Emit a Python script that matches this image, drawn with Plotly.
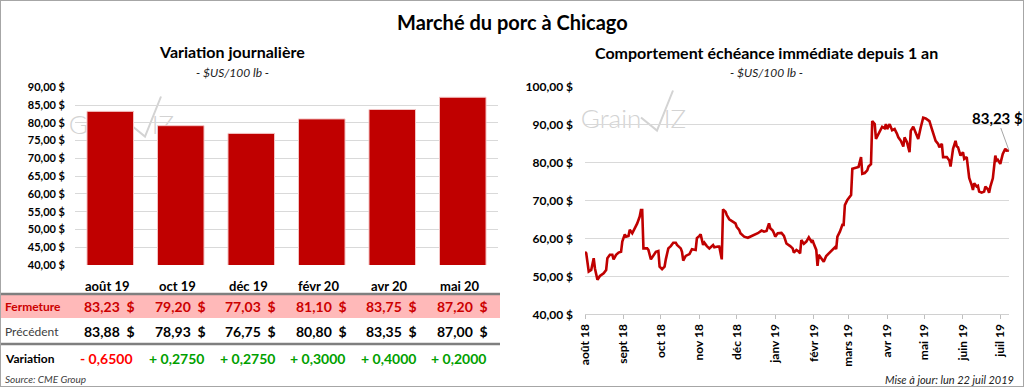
import plotly.graph_objects as go

# ---------------- data ----------------
contracts = ["août 19", "oct 19", "déc 19", "févr 20", "avr 20", "mai 20"]
fermeture = [83.23, 79.20, 77.03, 81.10, 83.75, 87.20]
precedent = [83.88, 78.93, 76.75, 80.80, 83.35, 87.00]
variation = [-0.6500, 0.2750, 0.2750, 0.3000, 0.4000, 0.2000]

dates = [
    "2018-08-01", "2018-08-02", "2018-08-04", "2018-08-06", "2018-08-08", "2018-08-09", "2018-08-11",
    "2018-08-13", "2018-08-16", "2018-08-18", "2018-08-19", "2018-08-21", "2018-08-23", "2018-08-24",
    "2018-08-26", "2018-08-28", "2018-08-30", "2018-08-31",
    "2018-09-02", "2018-09-03", "2018-09-05", "2018-09-06", "2018-09-08", "2018-09-10", "2018-09-12",
    "2018-09-14", "2018-09-15", "2018-09-16", "2018-09-17", "2018-09-20", "2018-09-21", "2018-09-23",
    "2018-09-25", "2018-09-27", "2018-09-29", "2018-09-30",
    "2018-10-02", "2018-10-04", "2018-10-05", "2018-10-07", "2018-10-09", "2018-10-11", "2018-10-13",
    "2018-10-14", "2018-10-17", "2018-10-18", "2018-10-19", "2018-10-21", "2018-10-24", "2018-10-26",
    "2018-10-29", "2018-10-30",
    "2018-11-01", "2018-11-02", "2018-11-04", "2018-11-05", "2018-11-07", "2018-11-09", "2018-11-12",
    "2018-11-13", "2018-11-16", "2018-11-17", "2018-11-19", "2018-11-20", "2018-11-22", "2018-11-23",
    "2018-11-25", "2018-11-28", "2018-11-30",
    "2018-12-01", "2018-12-03", "2018-12-04", "2018-12-07", "2018-12-10", "2018-12-12", "2018-12-15",
    "2018-12-18", "2018-12-21", "2018-12-23", "2018-12-25", "2018-12-26", "2018-12-27", "2018-12-28",
    "2018-12-30", "2018-12-31",
    "2019-01-01", "2019-01-03", "2019-01-06", "2019-01-08", "2019-01-10", "2019-01-13", "2019-01-15",
    "2019-01-16", "2019-01-18", "2019-01-20", "2019-01-21", "2019-01-22", "2019-01-24", "2019-01-26",
    "2019-01-28", "2019-01-30", "2019-01-31",
    "2019-02-01", "2019-02-03", "2019-02-04", "2019-02-05", "2019-02-07", "2019-02-09", "2019-02-11",
    "2019-02-13", "2019-02-16", "2019-02-18", "2019-02-19", "2019-02-20", "2019-02-22", "2019-02-24",
    "2019-02-25", "2019-02-26", "2019-02-28",
    "2019-03-02", "2019-03-03", "2019-03-04", "2019-03-07", "2019-03-09", "2019-03-11", "2019-03-12",
    "2019-03-14", "2019-03-16", "2019-03-17", "2019-03-19", "2019-03-20", "2019-03-22", "2019-03-23",
    "2019-03-26", "2019-03-28", "2019-03-30", "2019-03-31",
    "2019-04-01", "2019-04-03", "2019-04-05", "2019-04-07", "2019-04-09", "2019-04-10", "2019-04-12",
    "2019-04-14", "2019-04-15", "2019-04-17", "2019-04-19", "2019-04-20", "2019-04-22", "2019-04-24",
    "2019-04-26", "2019-04-28", "2019-04-30",
    "2019-05-02", "2019-05-05", "2019-05-07", "2019-05-09", "2019-05-10", "2019-05-12", "2019-05-13",
    "2019-05-15", "2019-05-16", "2019-05-19", "2019-05-21", "2019-05-22", "2019-05-24", "2019-05-26",
    "2019-05-27", "2019-05-28", "2019-05-30",
    "2019-06-01", "2019-06-02", "2019-06-04", "2019-06-05", "2019-06-06", "2019-06-08", "2019-06-09",
    "2019-06-10", "2019-06-12", "2019-06-13", "2019-06-14", "2019-06-16", "2019-06-18", "2019-06-19",
    "2019-06-21", "2019-06-22", "2019-06-23", "2019-06-25", "2019-06-26", "2019-06-27", "2019-06-28",
    "2019-06-29",
    "2019-07-01", "2019-07-03", "2019-07-05", "2019-07-06", "2019-07-08",
]
prices = [
    56.5, 56.1, 51.3, 51.7, 54.8, 52.1, 49.1,
    50.1, 50.8, 51.7, 54.8, 55.7, 55.7, 54.5,
    55.7, 56.3, 56.5, 59.2,
    61.1, 60.5, 60.7, 62.3, 61.4, 62.7, 64.0,
    65.8, 67.5, 67.5, 57.4, 57.4, 57.0, 54.5,
    55.4, 56.5, 56.7, 52.6,
    51.9, 52.6, 54.5, 57.4, 58.0, 58.9, 58.9,
    58.3, 57.4, 56.5, 54.2, 55.4, 55.9, 57.2,
    57.0, 60.1,
    60.7, 61.1, 58.3, 58.9, 58.0, 57.4, 58.3,
    57.7, 57.9, 57.9, 54.5, 67.7, 67.1, 66.2,
    65.1, 64.4, 64.0,
    63.1, 62.3, 61.4, 60.5, 60.2, 60.5, 60.9,
    61.4, 62.1, 61.8, 62.0, 63.1, 64.0, 62.7,
    62.1, 61.4,
    60.5, 61.4, 61.5, 60.7, 58.7, 58.0, 57.4,
    56.3, 57.0, 56.5, 56.1, 59.6, 58.6, 59.2,
    60.3, 59.2, 59.6,
    58.6, 57.0, 52.8, 55.7, 54.8, 53.9, 55.4,
    56.1, 57.0, 57.7, 57.2, 60.5, 61.8, 63.6,
    63.6, 68.8, 70.2,
    71.0, 71.5, 78.4, 78.6, 78.9, 81.5, 77.1,
    77.3, 78.0, 79.0, 79.6, 91.0, 90.2, 86.3,
    88.0, 89.5, 89.1, 90.2,
    88.9, 90.2, 88.6, 88.9, 87.6, 86.7, 85.8,
    84.3, 86.7, 85.4, 82.8, 88.4, 89.5, 88.0,
    86.3, 89.3, 91.9,
    91.7, 91.0, 88.9, 86.7, 85.8, 85.0, 84.1,
    85.0, 81.5, 81.5, 80.6, 79.0, 83.7, 85.8,
    84.3, 84.1, 81.9,
    82.8, 81.0, 81.5, 79.0, 76.0, 74.1, 72.8,
    74.6, 73.7, 73.9, 72.4, 72.1, 72.4, 73.7,
    73.0, 72.1, 73.7, 75.9, 78.5, 81.9, 80.6,
    80.8,
    79.7, 82.3, 83.7, 83.2, 83.23,
]

month_ticks = ["2018-08-01", "2018-09-01", "2018-10-01", "2018-11-01", "2018-12-01", "2019-01-01",
               "2019-02-01", "2019-03-01", "2019-04-01", "2019-05-01", "2019-06-01", "2019-07-01"]
month_labels = ["août 18", "sept 18", "oct 18", "nov 18", "déc 18", "janv 19",
                "févr 19", "mars 19", "avr 19", "mai 19", "juin 19", "juil 19"]

# ---------------- helpers ----------------
W, H = 1024, 387
FONT = "Lato"
RED = "#c00000"
GRID = "#d9d9d9"
WM = "#d3d3d3"


def px(x):
    return x / W


def py(y):
    return 1 - y / H


def fr(v):
    return f"{v:.2f}".replace(".", ",") + "\u00a0\u00a0$"


def fvar(v):
    sign = "-" if v < 0 else "+"
    return sign + " " + f"{abs(v):.4f}".replace(".", ",")


fig = go.Figure()


# watermark logo (drawn in a full-figure helper subplot so bars cover it)
def logo(bx, by):
    fig.add_trace(go.Scatter(x=[bx + 29], y=[by], mode="text", text=["Grain"],
                             textfont=dict(family=FONT, size=26, color=WM, weight=300),
                             xaxis="x", yaxis="y", hoverinfo="skip", showlegend=False))
    fig.add_trace(go.Scatter(x=[bx + 59, bx + 75, bx + 91], y=[by - 4, by + 9, by - 31],
                             mode="lines", line=dict(color=WM, width=2),
                             xaxis="x", yaxis="y", hoverinfo="skip", showlegend=False))
    fig.add_trace(go.Scatter(x=[bx + 93], y=[by], mode="text", text=["IZ"],
                             textfont=dict(family=FONT, size=26, color=WM, weight=300),
                             xaxis="x", yaxis="y", hoverinfo="skip", showlegend=False))


logo(70, 127.5)
logo(582, 121.5)

# bar chart
fig.add_trace(go.Bar(x=contracts, y=fermeture, width=0.66,
                     marker=dict(color=RED, line=dict(color="#f3c4c4", width=1)),
                     xaxis="x2", yaxis="y2", hoverinfo="x+y", showlegend=False))

# line chart
fig.add_trace(go.Scatter(x=dates, y=prices, mode="lines",
                         line=dict(color=RED, width=2.6),
                         xaxis="x3", yaxis="y3", showlegend=False))

ann = []
shapes = []


def label(x, y, text, size, color="black", weight="normal", xanchor="center", xref="paper",
          xshift=0):
    ann.append(dict(x=x, y=y, xref=xref, yref="paper", text=text, showarrow=False,
                    xanchor=xanchor, yanchor="middle", xshift=xshift,
                    font=dict(family=FONT, size=size, color=color, weight=weight)))


# titles
label(0.5, py(22), "Marché du porc à Chicago", 20, weight="bold")
label(px(232), py(52), "Variation journalière", 16, weight="bold")
label(px(232), py(72), "<i>- $US/100 lb -</i>", 12, color="#222222")
label(px(766), py(53), "Comportement échéance immédiate depuis 1 an", 16, weight="bold")
label(px(766), py(73), "<i>- $US/100 lb -</i>", 12, color="#222222")

# table (left)
shapes.append(dict(type="rect", xref="paper", yref="paper", x0=0, x1=px(500), y0=py(318), y1=py(294),
                   fillcolor="#ffb9b9", line=dict(width=0), layer="below"))
for yy in (294, 344):
    shapes.append(dict(type="line", xref="paper", yref="paper", x0=0, x1=px(500), y0=py(yy), y1=py(yy),
                       line=dict(color="#7f7f7f", width=2.5)))

label(px(3), py(306), "Fermeture", 12, color="#cc0000", weight="bold", xanchor="left")
label(px(3), py(331), "Précédent", 12, color="#404040", xanchor="left")
label(px(3), py(358), "Variation", 12, weight="bold", xanchor="left")

for c, f, p, v in zip(contracts, fermeture, precedent, variation):
    label(c, py(286), c, 13, weight="bold", xref="x2", xshift=-3)
    label(c, py(306), fr(f), 14, color="#cc0000", weight="bold", xanchor="right", xref="x2", xshift=27)
    label(c, py(331), fr(p), 14, weight="bold", xanchor="right", xref="x2", xshift=27)
    label(c, py(358), fvar(v), 14, weight="bold", xref="x2", xshift=-4,
          color="#ff0000" if v < 0 else "#00a000")

# last value label
ann.append(dict(x=dates[-1], y=prices[-1], xref="x3", yref="y3",
                text=f"{prices[-1]:.2f}".replace(".", ",") + " $",
                showarrow=True, arrowhead=0, arrowwidth=1, arrowcolor="#a6a6a6",
                ax=-12, ay=-33, font=dict(family=FONT, size=15, color="black", weight="bold")))

# footers
label(px(3), py(379), "<i>Source: CME Group</i>", 10, color="#404040", xanchor="left")
label(px(1016), py(379), "<i>Mise à jour: lun 22 juil 2019</i>", 11, color="#222222", xanchor="right")

# frame
shapes.append(dict(type="rect", xref="paper", yref="paper", x0=0, x1=1, y0=0, y1=1,
                   line=dict(color="#a6a6a6", width=2)))

fig.update_layout(
    width=W, height=H,
    margin=dict(l=0, r=0, t=0, b=0, pad=0, autoexpand=False),
    paper_bgcolor="white", plot_bgcolor="rgba(0,0,0,0)",
    separators=", ",
    showlegend=False,
    bargap=0.34,
    xaxis=dict(domain=[0, 1], range=[0, W], visible=False, fixedrange=True, automargin=False),
    yaxis=dict(domain=[0, 1], range=[H, 0], visible=False, fixedrange=True, automargin=False),
    xaxis2=dict(domain=[px(75), px(498)], anchor="y2", showticklabels=False, showgrid=False,
                showline=False, zeroline=False, ticks="", automargin=False),
    yaxis2=dict(domain=[py(265), py(87.3)], anchor="x2", range=[40, 90], tick0=40, dtick=5,
                tickformat=".2f", ticksuffix=" $", showgrid=True, gridcolor=GRID, gridwidth=1,
                zeroline=False, showline=False, ticks="", ticklabelstandoff=9, automargin=False,
                tickfont=dict(family=FONT, size=11, color="black", weight="bold")),
    xaxis3=dict(domain=[px(585), px(1009)], anchor="y3", type="date",
                range=[dates[0], dates[-1]], tickmode="array", tickvals=month_ticks,
                ticktext=month_labels, tickangle=-90, ticks="outside", ticklen=4,
                tickcolor="#bfbfbf", showline=True, linecolor="#d0d0d0", linewidth=1,
                showgrid=False, zeroline=False, automargin=False,
                tickfont=dict(family=FONT, size=12, color="black", weight="bold")),
    yaxis3=dict(domain=[py(314.3), py(87)], anchor="x3", range=[40, 100], tick0=40, dtick=10,
                tickformat=".2f", ticksuffix=" $", showgrid=True, gridcolor=GRID, gridwidth=1,
                zeroline=False, showline=False, ticks="", ticklabelstandoff=11, automargin=False,
                tickfont=dict(family=FONT, size=12, color="black", weight="bold")),
    annotations=ann,
    shapes=shapes,
)

fig.write_html("out.html", config={"displayModeBar": False},
               post_script="document.body.style.margin='0';document.body.style.overflow='hidden';")
